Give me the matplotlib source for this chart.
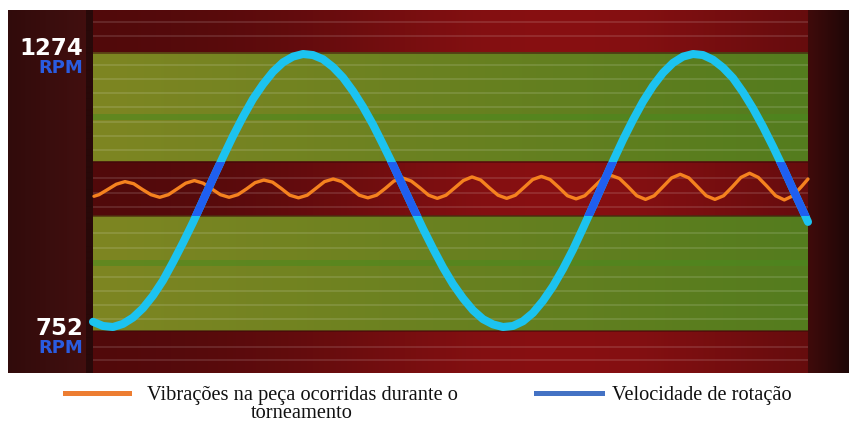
import numpy as np
import matplotlib
matplotlib.use("Agg")
import matplotlib.pyplot as plt
from matplotlib.patches import Rectangle
from matplotlib.lines import Line2D

# ---- data (time in arbitrary units, speed in RPM) ----
time_blue = list(range(72)) + [71.5]
rpm_blue = [762, 754, 752, 758, 770, 788, 812, 841, 876, 913,
            952, 994, 1036, 1077, 1117, 1154, 1188, 1216, 1240, 1258,
            1269, 1274, 1272, 1264, 1249, 1229, 1203, 1173, 1139, 1101,
            1062, 1021, 980, 940, 902, 866, 834, 807, 784, 767,
            757, 752, 754, 763, 779, 802, 830, 863, 900, 941,
            983, 1026, 1069, 1110, 1148, 1183, 1213, 1238, 1257, 1269,
            1274, 1272, 1263, 1248, 1228, 1201, 1170, 1135, 1097, 1057,
            1015, 974, 953]

time_orange = [0.1,
               0.60, 1.47, 2.33, 3.20, 4.07, 4.94, 5.80, 6.67,
               7.54, 8.41, 9.27, 10.14, 11.01, 11.88, 12.74, 13.61,
               14.48, 15.35, 16.21, 17.08, 17.95, 18.82, 19.68, 20.55,
               21.42, 22.29, 23.15, 24.02, 24.89, 25.76, 26.62, 27.49,
               28.36, 29.23, 30.09, 30.96, 31.83, 32.70, 33.56, 34.43,
               35.30, 36.17, 37.03, 37.90, 38.77, 39.64, 40.50, 41.37,
               42.24, 43.11, 43.97, 44.84, 45.71, 46.58, 47.44, 48.31,
               49.18, 50.05, 50.91, 51.78, 52.65, 53.52, 54.38, 55.25,
               56.12, 56.99, 57.85, 58.72, 59.59, 60.46, 61.32, 62.19,
               63.06, 63.93, 64.79, 65.66, 66.53, 67.40, 68.26, 69.13,
               70.00, 70.87,
               71.5]
vib_orange = [1002,
              1005, 1015, 1025, 1030, 1026, 1015, 1005, 1000,
              1005, 1016, 1027, 1032, 1027, 1016, 1005, 1000,
              1005, 1016, 1028, 1033, 1029, 1017, 1004, 999,
              1004, 1017, 1030, 1035, 1030, 1017, 1004, 999,
              1004, 1017, 1031, 1037, 1031, 1018, 1004, 998,
              1004, 1018, 1032, 1039, 1033, 1018, 1004, 998,
              1004, 1019, 1034, 1040, 1034, 1019, 1003, 997,
              1003, 1019, 1035, 1042, 1036, 1020, 1003, 996,
              1003, 1020, 1037, 1044, 1037, 1020, 1003, 996,
              1003, 1020, 1038, 1046, 1038, 1021, 1003, 995,
              1003, 1021,
              1035]

rpm_labels = ["1274", "752"]
legend_labels = ["Vibrações na peça ocorridas durante o\ntorneamento",
                 "Velocidade de rotação"]

# ---- figure / panel ----
W, H = 849, 423
fig = plt.figure(figsize=(W / 100, H / 100), dpi=100, facecolor="white")

PX0, PX1, PY0, PY1 = 8, 849, 10, 373     # dark panel in pixels


def t_of(px):
    return (px - 93) / 10.0


def rpm_of(py):
    return 1274 - (py - 54) * 1.912


ax = fig.add_axes([PX0 / W, 1 - PY1 / H, (PX1 - PX0) / W, (PY1 - PY0) / H])
ax.set_xlim(t_of(PX0), t_of(PX1))
ax.set_ylim(rpm_of(PY1), rpm_of(PY0))
ax.axis("off")

# background bands (built in pixel space)
X, Y = np.meshgrid(np.arange(PX0, PX1) + 0.5, np.arange(PY0, PY1) + 0.5)
img = np.zeros(X.shape + (3,))
red = np.array([136, 16, 18]) / 255
hf = 0.58 + 0.42 * np.exp(-((X - 560) / 260.0) ** 2)
img[:] = red * hf[..., None]

fx = np.clip((X - 93) / 715.0, 0, 1)[..., None]
green = np.array([126, 134, 34]) / 255 * (1 - fx) + np.array([84, 124, 30]) / 255 * fx
in_plot = (X >= 93) & (X < 808)
in_green = ((Y >= 53) & (Y < 162)) | ((Y >= 216) & (Y < 331))
m = in_plot & in_green
img[m] = green[m]

left = X < 93
img[left] = np.array([66, 15, 15]) / 255 * (0.72 + 0.28 * (X[left] / 88.0))[:, None]
img[(X >= 86) & (X < 93)] = np.array([40, 9, 9]) / 255
right = X >= 808
rf = ((X[right] - 808) / 41.0)[:, None]
img[right] = (np.array([64, 11, 11]) * (1 - rf) + np.array([30, 7, 7]) * rf) / 255

ax.imshow(img, extent=(t_of(PX0), t_of(PX1), rpm_of(PY1), rpm_of(PY0)),
          aspect="auto", origin="upper", zorder=0, interpolation="bilinear")

# greener rows inside the green bands
for py in (117, 263):
    ax.axhspan(rpm_of(py + 3), rpm_of(py - 3), xmin=(93 - PX0) / (PX1 - PX0),
               xmax=(808 - PX0) / (PX1 - PX0), color="#4a8a1e", alpha=0.55,
               lw=0, zorder=1)

# faint horizontal stripes
stripes = [22, 36, 65, 79, 93, 107, 122, 136, 150, 178, 193, 207,
           233, 248, 277, 291, 305, 319, 347, 360]
ax.hlines([rpm_of(p) for p in stripes], t_of(93), t_of(808),
          color="white", alpha=0.13, lw=1.3, zorder=1)
ax.hlines([rpm_of(p) for p in (53, 162, 216, 331)], t_of(93), t_of(808),
          color="#3c0808", alpha=0.5, lw=1.4, zorder=1)

# ---- curves ----
ax.plot(time_orange, vib_orange, color="#f5821f", lw=2.4, zorder=3,
        solid_capstyle="round")
ax.plot(time_blue, rpm_blue, color="#1cc3f0", lw=5.8, zorder=4,
        solid_capstyle="round")
dark, = ax.plot(time_blue, rpm_blue, color="#1f5ff0", lw=5.8, zorder=5,
                solid_capstyle="round")
clip = Rectangle((t_of(80), rpm_of(216)), 90, rpm_of(162) - rpm_of(216),
                 transform=ax.transData)
dark.set_clip_path(clip)

# ---- RPM labels ----
for lab, yb, yr in ((rpm_labels[0], 55, 73), (rpm_labels[1], 335, 353)):
    fig.text(83 / W, 1 - yb / H, lab, ha="right", va="baseline",
             color="white", fontweight="bold", fontsize=16.5)
    fig.text(83 / W, 1 - yr / H, "RPM", ha="right", va="baseline",
             color="#2a5ce0", fontweight="bold", fontsize=13)

# ---- legend below ----
ly = 1 - 393 / H
fig.add_artist(Line2D([65 / W, 129 / W], [ly, ly], transform=fig.transFigure,
                      color="#ed7d31", lw=3.6))
fig.add_artist(Line2D([536 / W, 602 / W], [ly, ly], transform=fig.transFigure,
                      color="#4472c4", lw=3.6))
serif = dict(family="Liberation Serif", fontsize=14.7, color="#111111")
fig.text(302 / W, 1 - 418 / H, legend_labels[0], ha="center", va="baseline",
         multialignment="center", linespacing=0.95, **serif)
fig.text(612 / W, 1 - 400 / H, legend_labels[1], ha="left", va="baseline", **serif)

fig.savefig("out.png", dpi=100, facecolor="white")
